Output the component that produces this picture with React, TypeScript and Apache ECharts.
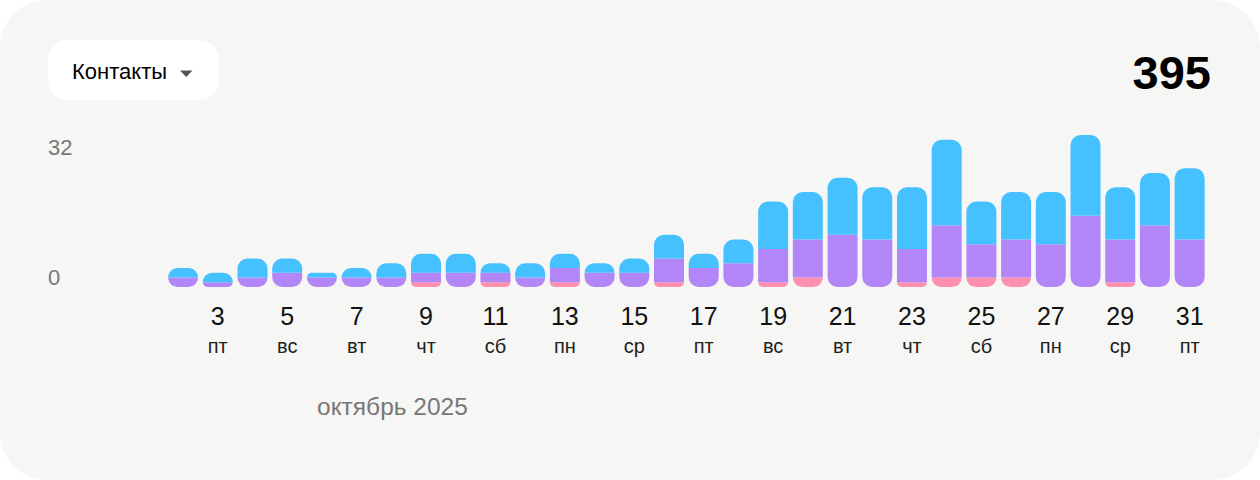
import React, { useEffect, useRef } from 'react';
import * as echarts from 'echarts';

// Day of month (October 2025)
const days = ['1','2','3','4','5','6','7','8','9','10','11','12','13','14','15','16','17','18','19','20','21','22','23','24','25','26','27','28','29','30','31'];
// Weekday tick labels
const weekdays = ['ср','чт','пт','сб','вс','пн','вт','ср','чт','пт','сб','вс','пн','вт','ср','чт','пт','сб','вс','пн','вт','ср','чт','пт','сб','вс','пн','вт','ср','чт','пт'];

// Stacked segments, bottom to top
const pinkValues   = [0,0,0,0,0,0,0,0,1,0,1,0,1,0,0,1,0,0,1,2,0,0,1,2,2,2,0,0,1,0,0];
const purpleValues = [0,2,1,2,3,2,2,2,2,3,2,2,3,3,3,5,4,5,7,8,11,10,7,11,7,8,9,15,9,13,10];
const blueValues   = [0,2,2,4,3,1,2,3,4,4,2,3,3,2,3,5,3,5,10,10,12,11,13,18,9,10,11,17,11,11,15];

const yTicks = [0, 32];
const monthLabel = 'октябрь 2025';
const selectorLabel = 'Контакты';

const FONT = '"Liberation Sans", Arial, Helvetica, sans-serif';

export default function App() {
  const ref = useRef<HTMLDivElement>(null);

  useEffect(() => {
    if (!ref.current) return;
    const chart = echarts.init(ref.current, undefined, { renderer: 'svg' });
    const layers = [pinkValues, purpleValues, blueValues];
    const colors = ['#ff8fae', '#b386f7', '#46c1ff'];
    const R = 10;
    const total = layers.reduce((s, l) => s + l.reduce((a, b) => a + b, 0), 0);

    const makeData = (li: number) =>
      layers[li].map((v, i) => {
        const nz = layers.map((l) => l[i] > 0);
        const first = nz.indexOf(true);
        const last = nz.lastIndexOf(true);
        const t = li === last ? R : 0;
        const b = li === first ? R : 0;
        return { value: v, itemStyle: { borderRadius: [t, t, b, b] } };
      });

    chart.setOption({
      animation: false,
      grid: { left: 131, right: 53, top: 135, bottom: 193, containLabel: false },
      xAxis: {
        type: 'category',
        data: days,
        axisLine: { show: false },
        axisTick: { show: false },
        axisLabel: {
          interval: (idx: number) => idx % 2 === 0 && idx > 0,
          margin: 14,
          formatter: (val: string, idx: number) => `{n|${val}}\n{w|${weekdays[idx]}}`,
          rich: {
            n: { fontSize: 25, lineHeight: 30, color: '#111', fontFamily: FONT },
            w: { fontSize: 20, lineHeight: 30, color: '#222', fontFamily: FONT },
          },
        },
      },
      yAxis: {
        type: 'value',
        min: yTicks[0],
        max: yTicks[1],
        interval: yTicks[1] - yTicks[0],
        splitLine: { show: false },
        axisLine: { show: false },
        axisTick: { show: false },
        axisLabel: {
          align: 'left',
          margin: 83,
          formatter: (v: number) => (v === yTicks[0] ? `{b|${v}}` : v === yTicks[1] ? `{t|${v}}` : ''),
          rich: {
            b: { fontSize: 22, color: '#777', fontFamily: FONT, padding: [0, 0, 20, 0] },
            t: { fontSize: 22, color: '#777', fontFamily: FONT, padding: [24, 0, 0, 0] },
          },
        },
      },
      series: layers.map((_, li) => ({
        type: 'bar',
        stack: 'all',
        barWidth: 30,
        itemStyle: { color: colors[li] },
        data: makeData(li),
      })),
      graphic: [
        { type: 'rect', shape: { x: 48, y: 40, width: 171, height: 60, r: 20 }, style: { fill: '#ffffff' } },
        { type: 'text', x: 72, y: 71, style: { text: selectorLabel, fontSize: 22, fill: '#000', verticalAlign: 'middle', fontFamily: FONT } },
        { type: 'polygon', shape: { points: [[180, 70.5], [192.5, 70.5], [186.25, 77]] }, style: { fill: '#555' } },
        { type: 'text', x: 1211, y: 72, style: { text: String(total), fontSize: 47, fontWeight: 'bold', fill: '#000', align: 'right', verticalAlign: 'middle', fontFamily: FONT } },
        { type: 'text', x: 317, y: 406, style: { text: monthLabel, fontSize: 24.5, fill: '#777', verticalAlign: 'middle', fontFamily: FONT } },
      ],
    });
    return () => chart.dispose();
  }, []);

  return (
    <div
      style={{ position: 'absolute', left: 0, top: 0, width: 1260, height: 480, background: '#f6f6f4', borderRadius: 48, overflow: 'hidden' }}
    >
      <div ref={ref} style={{ width: 1260, height: 480 }} />
    </div>
  );
}
